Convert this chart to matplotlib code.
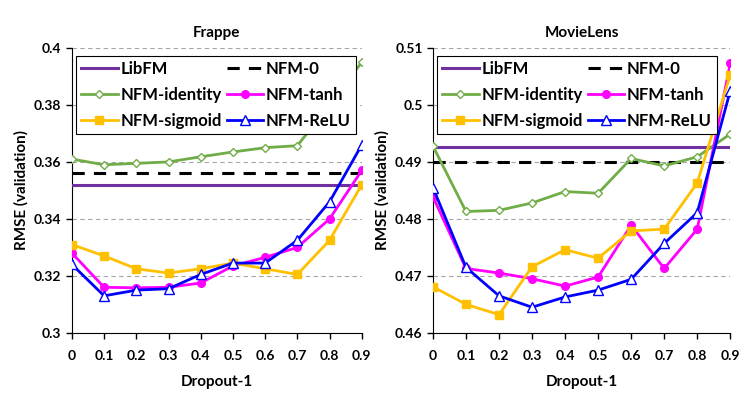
import numpy as np
import matplotlib.pyplot as plt

plt.rcParams['font.family'] = ['Lato', 'DejaVu Sans']
plt.rcParams['font.weight'] = 'bold'

dropout = [0, 0.1, 0.2, 0.3, 0.4, 0.5, 0.6, 0.7, 0.8, 0.9]
xtick_labels = ["0", "0.1", "0.2", "0.3", "0.4", "0.5", "0.6", "0.7", "0.8", "0.9"]

# Frappe
frappe_libfm = 0.352
frappe_nfm0 = 0.356
frappe_identity = [0.361, 0.359, 0.3595, 0.360, 0.3618, 0.3635, 0.365, 0.3657, 0.380, 0.395]
frappe_tanh = [0.328, 0.316, 0.3158, 0.316, 0.3175, 0.3235, 0.3265, 0.330, 0.340, 0.357]
frappe_sigmoid = [0.331, 0.327, 0.3225, 0.321, 0.3225, 0.3245, 0.3225, 0.3205, 0.3325, 0.352]
frappe_relu = [0.324, 0.313, 0.315, 0.3155, 0.3205, 0.3245, 0.3245, 0.3325, 0.346, 0.366]

# MovieLens
ml_libfm = 0.4926
ml_nfm0 = 0.490
ml_identity = [0.4928, 0.4813, 0.4815, 0.4828, 0.4848, 0.4845, 0.4906, 0.4893, 0.4909, 0.4949]
ml_tanh = [0.4839, 0.4713, 0.4705, 0.4695, 0.4682, 0.4698, 0.4789, 0.4713, 0.4782, 0.5073]
ml_sigmoid = [0.4681, 0.4650, 0.4632, 0.4716, 0.4746, 0.4731, 0.4779, 0.4782, 0.4863, 0.5053]
ml_relu = [0.4855, 0.4715, 0.4665, 0.4645, 0.4663, 0.4675, 0.4694, 0.4757, 0.4811, 0.5025]

C_LIB = "#7030a0"
C_ID = "#70ad47"
C_TANH = "#ff00ff"
C_SIG = "#ffc000"
C_RELU = "#0000ff"

fig = plt.figure(figsize=(7.49, 3.93), dpi=100)
ax1 = fig.add_axes([0.096, 0.153, 0.387, 0.725])
ax2 = fig.add_axes([0.578, 0.153, 0.397, 0.725])


def draw(ax, title, libfm, nfm0, ident, tanh, sig, relu, ylim, yticks):
    h_lib = ax.axhline(libfm, color=C_LIB, lw=2.2, label="LibFM", zorder=3)
    h_n0 = ax.axhline(nfm0, color="black", lw=2.2, ls=(0, (4, 3)), label="NFM-0", zorder=3)
    h_id, = ax.plot(dropout, ident, color=C_ID, lw=2, marker="D", ms=4.5, mfc="white",
                    mec=C_ID, mew=1, label="NFM-identity", zorder=4)
    h_tanh, = ax.plot(dropout, tanh, color=C_TANH, lw=2, marker="o", ms=5.5,
                      label="NFM-tanh", zorder=4)
    h_sig, = ax.plot(dropout, sig, color=C_SIG, lw=2, marker="s", ms=6,
                     label="NFM-sigmoid", zorder=4)
    h_relu, = ax.plot(dropout, relu, color=C_RELU, lw=2, marker="^", ms=6.5, mfc="white",
                      mec=C_RELU, mew=1, label="NFM-ReLU", zorder=5)
    ax.set_xlim(0, 0.9)
    ax.set_ylim(*ylim)
    ax.set_xticks(dropout)
    ax.set_xticklabels(xtick_labels, fontsize=10, fontweight="bold")
    ax.set_yticks(yticks)
    ax.set_yticklabels([f"{v:g}" for v in yticks], fontsize=10, fontweight="bold")
    ax.yaxis.grid(True, color="#a6a6a6", ls=(0, (4, 3)), lw=0.8)
    ax.set_axisbelow(True)
    for s in ["top", "right"]:
        ax.spines[s].set_visible(False)
    ax.tick_params(direction="out", length=4, width=1)
    ax.tick_params(axis="x", pad=8)
    ax.set_title(title, fontsize=11, fontweight="bold", pad=8)
    ax.set_xlabel("Dropout-1", fontsize=11, fontweight="bold", labelpad=10)
    ax.set_ylabel("RMSE (validation)", fontsize=11, fontweight="bold")
    handles = [h_lib, h_id, h_sig, h_n0, h_tanh, h_relu]
    leg = ax.legend(handles=handles, loc="upper left", bbox_to_anchor=(0.003, 0.985), ncol=2,
                    fontsize=12, frameon=True, fancybox=False, framealpha=1,
                    edgecolor="black", handlelength=2.2, columnspacing=0.3,
                    handletextpad=0.15, labelspacing=0.6, borderpad=0.3,
                    borderaxespad=0.2)
    leg.get_frame().set_linewidth(0.8)


draw(ax1, "Frappe", frappe_libfm, frappe_nfm0, frappe_identity, frappe_tanh,
     frappe_sigmoid, frappe_relu, (0.3, 0.4), [0.3, 0.32, 0.34, 0.36, 0.38, 0.4])
draw(ax2, "MovieLens", ml_libfm, ml_nfm0, ml_identity, ml_tanh, ml_sigmoid,
     ml_relu, (0.46, 0.51), [0.46, 0.47, 0.48, 0.49, 0.5, 0.51])

fig.savefig("out.png", dpi=100)
